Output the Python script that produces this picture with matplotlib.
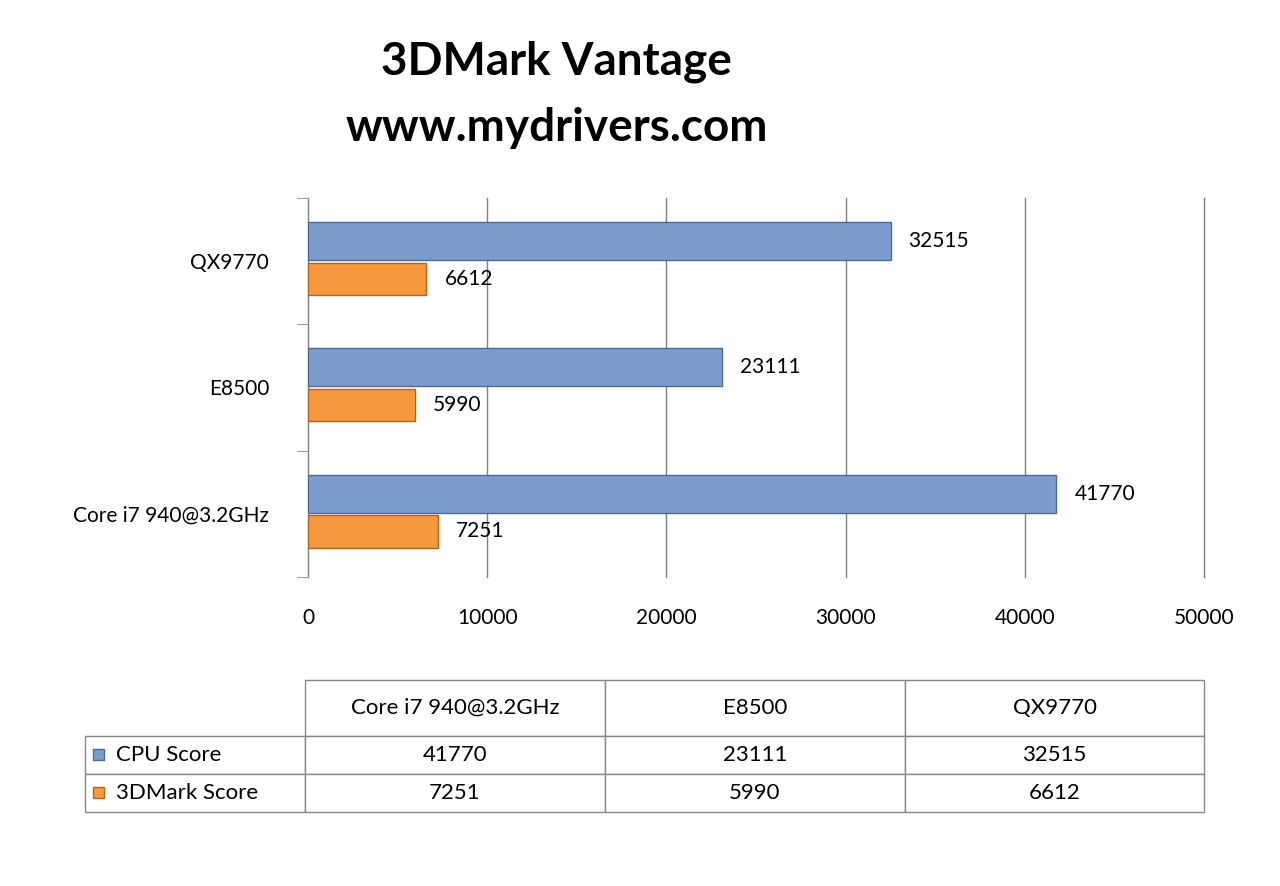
import matplotlib
matplotlib.use('Agg')
import matplotlib.pyplot as plt
from matplotlib.patches import Rectangle
import numpy as np

plt.rcParams['font.family'] = ['Lato', 'DejaVu Sans']

cpus = ['Core i7 940@3.2GHz', 'E8500', 'QX9770']
cpu_score = [41770, 23111, 32515]
mark_score = [7251, 5990, 6612]
series = ['CPU Score', '3DMark Score']
blue, blue_edge = '#7c9ccc', '#4a6a9c'
orange, orange_edge = '#f5993f', '#b9611a'

fig = plt.figure(figsize=(12.8, 8.86), dpi=100)
fig.text(0.435, 0.930, '3DMark Vantage', ha='center', va='center', fontsize=33, fontweight='bold')
fig.text(0.435, 0.855, 'www.mydrivers.com', ha='center', va='center', fontsize=33, fontweight='bold')

ax = fig.add_axes([0.2406, 0.3488, 0.7, 0.4278])
y = np.arange(len(cpus))
h = 0.3
b1 = ax.barh(y + 0.16, cpu_score, height=h, color=blue, edgecolor=blue_edge, linewidth=1, zorder=3)
b2 = ax.barh(y - 0.14, mark_score, height=h * 0.85, color=orange, edgecolor=orange_edge, linewidth=1, zorder=3)
for bars, vals in ((b1, cpu_score), (b2, mark_score)):
    for r, v in zip(bars, vals):
        ax.text(v + 1000, r.get_y() + r.get_height() / 2, str(v), va='center', fontsize=15)

ax.set_xlim(0, 50000)
ax.set_ylim(-0.5, len(cpus) - 0.5)
ax.set_xticks(range(0, 50001, 10000))
ax.set_yticks(y)
ax.set_yticklabels(cpus, fontsize=15)
ax.set_yticks(np.arange(-0.5, len(cpus), 1), minor=True)
ax.tick_params(axis='y', which='major', length=0, pad=28)
ax.tick_params(axis='y', which='minor', length=8, color='#888888')
ax.tick_params(axis='x', length=0, labelsize=15, pad=22)
ax.grid(axis='x', color='#808080', linewidth=1, zorder=0)
for gl in ax.get_xgridlines():
    gl.set_clip_on(False)
for s in ['top', 'right', 'bottom']:
    ax.spines[s].set_visible(False)
ax.spines['left'].set_color('#888888')

# data table
tax = fig.add_axes([85 / 1280, 1 - 812 / 886, (1204 - 85) / 1280, (812 - 680) / 886])
tax.axis('off')
cells = [[''] + cpus,
         [series[0]] + [str(v) for v in cpu_score],
         [series[1]] + [str(v) for v in mark_score]]
tbl = tax.table(cellText=cells, bbox=[0, 0, 1, 1], cellLoc='center',
                colWidths=[220, 300, 300, 299])
tbl.auto_set_font_size(False)
row_h = [56 / 132, 38 / 132, 38 / 132]
for (r, c), cell in tbl.get_celld().items():
    cell.set_edgecolor('#888888')
    cell.set_height(row_h[r])
    cell.get_text().set_fontsize(16)
    if c == 0:
        cell.get_text().set_ha('left')
        cell.PAD = 0.14
    if r == 0 and c == 0:
        cell.set_visible(False)
for i, (col, ec) in enumerate(((blue, blue_edge), (orange, orange_edge))):
    yy = 1 - (755 + 38 * i) / 886
    fig.patches.append(Rectangle((93 / 1280, yy - 5 / 886), 11 / 1280, 11 / 886,
                                 transform=fig.transFigure, facecolor=col, edgecolor=ec))

fig.savefig('out.png', dpi=100)
